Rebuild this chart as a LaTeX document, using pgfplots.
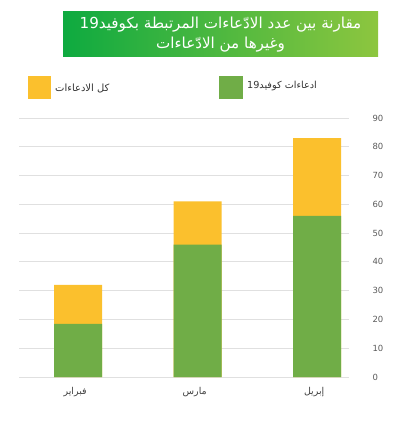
\documentclass[border=0pt]{standalone}
\usepackage{pgfplots}
\pgfplotsset{compat=1.18}
\usepackage{fontspec}
\setmainfont{DejaVu Sans}
\newfontfamily\arabicfont[Script=Arabic]{DejaVu Sans}
\TeXXeTstate=1
\definecolor{AllClaims}{HTML}{FBC02D}
\definecolor{CovidClaims}{HTML}{70AD47}
\definecolor{TitleLeft}{HTML}{0EAA40}
\definecolor{TitleRight}{HTML}{8DC63F}
\definecolor{TickGray}{HTML}{595959}
\definecolor{GridGray}{HTML}{E0E0E0}
\newcommand{\ar}[1]{{\arabicfont\beginR #1\endR}}

\begin{document}
\begin{tikzpicture}[x=1bp,y=1bp]
  \path[use as bounding box] (0,0) rectangle (412,421);
  % title box
  \shade[left color=TitleLeft, right color=TitleRight] (63,364) rectangle (378,409);
  \node[text=white, font=\fontsize{15.2}{18}\selectfont] at (220.5,396) {\ar{مقارنة بين عدد الادّعاءات المرتبطة بكوفيد\beginL19\endL}};
  \node[text=white, font=\fontsize{15.2}{18}\selectfont] at (220.5,376) {\ar{وغيرها من الادّعاءات}};
  % legend
  \fill[AllClaims] (28,322) rectangle (51,345);
  \node[anchor=west, text=black!80, font=\fontsize{10}{12}\selectfont, inner sep=0] at (55,333) {\ar{كل الادعاءات}};
  \fill[CovidClaims] (219,322) rectangle (243,345);
  \node[anchor=west, text=black!80, font=\fontsize{9.7}{12}\selectfont, inner sep=0] at (247,335) {\ar{ادعاءات كوفيد\beginL19\endL}};

  \begin{axis}[
      at={(19bp,44bp)}, anchor=south west,
      scale only axis, width=330bp, height=259bp,
      ybar, bar width=48bp, bar shift=0pt,
      xmin=-0.495, xmax=2.266, ymin=0, ymax=90,
      xtick={0,1,2},
      xticklabels={\ar{فبراير}, \ar{مارس}, \ar{إبريل}},
      ytick={0,10,...,90},
      yticklabel pos=right,
      axis line style={draw=none},
      tick style={draw=none},
      ymajorgrids, grid style={GridGray, line width=0.8pt},
      yticklabel style={text=TickGray, font=\fontsize{8.5}{10}\selectfont, xshift=20bp},
      xticklabel style={text=black!75, font=\fontsize{9.5}{11}\selectfont, yshift=-3bp, xshift=-3bp},
      /pgf/number format/assume math mode=true,
      clip=false,
    ]
    \addplot[fill=AllClaims, draw=none] coordinates {(0,32) (1,61) (2,83)};
    \addplot[fill=CovidClaims, draw=none] coordinates {(0,18.5) (1,46) (2,56)};
  \end{axis}
\end{tikzpicture}
\end{document}
